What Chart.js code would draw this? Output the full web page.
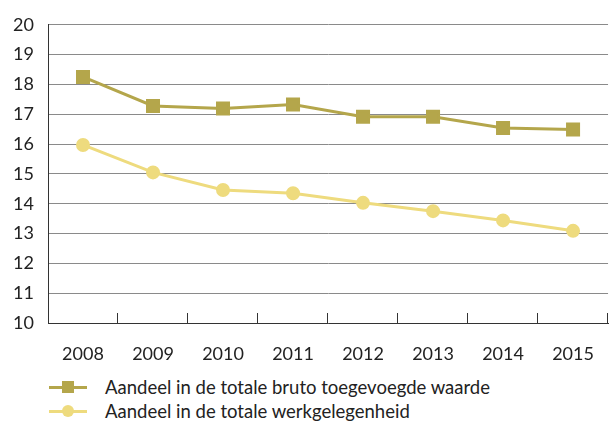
<!DOCTYPE html>
<html>
<head>
<meta charset="utf-8">
<script src="https://cdn.jsdelivr.net/npm/chart.js@4.4.0/dist/chart.umd.min.js"></script>
<style>
  html, body { margin: 0; background: #fff; overflow: hidden; font-family: Lato, sans-serif; }
  #wrap { position: relative; width: 614px; height: 370px; }
  #legend { position: absolute; left: 49px; top: 375px; font-size: 18.5px; color: #222; }
  .row { position: relative; height: 24px; line-height: 24px; padding-left: 56px; white-space: nowrap; }
  .sample { position: absolute; left: 0; top: 11px; width: 38px; height: 3px; }
  .mark { position: absolute; left: 13px; top: 6px; width: 12px; height: 12px; }
</style>
</head>
<body>
<div id="wrap"><canvas id="chart"></canvas></div>
<div id="legend"></div>
<script>
// jaren + waarden
const years = ['2008', '2009', '2010', '2011', '2012', '2013', '2014', '2015'];
const bruto = [18.25, 17.28, 17.19, 17.33, 16.92, 16.92, 16.54, 16.49];
const werk = [15.97, 15.05, 14.46, 14.35, 14.03, 13.75, 13.44, 13.09];
const seriesNames = ['Aandeel in de totale bruto toegevoegde waarde', 'Aandeel in de totale werkgelegenheid'];
const seriesColors = ['#b4a64b', '#eedb7e'];

// inward tick marks on the x axis, between the categories
const innerTicks = {
  id: 'innerTicks',
  afterDraw(chart) {
    const x = chart.scales.x;
    const ctx = chart.ctx;
    const bottom = chart.chartArea.bottom;
    const half = (x.getPixelForValue(1) - x.getPixelForValue(0)) / 2;
    ctx.save();
    ctx.strokeStyle = '#333';
    ctx.lineWidth = 1;
    for (let i = 0; i < years.length; i++) {
      const px = Math.round(x.getPixelForValue(i) + half) - 0.5;
      ctx.beginPath();
      ctx.moveTo(px, bottom);
      ctx.lineTo(px, bottom - 10);
      ctx.stroke();
    }
    ctx.restore();
  }
};

const chart = new Chart(document.getElementById('chart'), {
  type: 'line',
  data: {
    labels: years,
    datasets: [
      { label: seriesNames[0], data: bruto, borderColor: seriesColors[0], backgroundColor: seriesColors[0],
        borderWidth: 3, pointStyle: 'rect', pointRadius: 7.8, pointHoverRadius: 7.8, tension: 0 },
      { label: seriesNames[1], data: werk, borderColor: seriesColors[1], backgroundColor: seriesColors[1],
        borderWidth: 3, pointStyle: 'circle', pointRadius: 5.5, pointHoverRadius: 5.5, tension: 0 }
    ]
  },
  options: {
    responsive: true,
    maintainAspectRatio: false,
    animation: false,
    layout: { autoPadding: false, padding: { top: 23, right: 1, left: 0, bottom: 0 } },
    plugins: { legend: { display: false }, tooltip: { enabled: false } },
    scales: {
      x: {
        offset: true,
        grid: { display: false, drawTicks: false },
        border: { color: '#333', width: 1 },
        ticks: { color: '#222', font: { family: 'Lato', size: 18 }, padding: 20, maxRotation: 0 },
        afterFit(s) { s.height = 47; }
      },
      y: {
        min: 10, max: 20,
        grid: { color: '#8a8a8a', lineWidth: 1, drawTicks: false },
        border: { color: '#333', width: 1 },
        ticks: { stepSize: 1, color: '#222', font: { family: 'Lato', size: 18 }, padding: 14 },
        afterFit(s) { s.width = 48; }
      }
    }
  },
  plugins: [innerTicks]
});

// legend: line with marker, like the original
const legend = document.getElementById('legend');
chart.data.datasets.forEach((ds, i) => {
  const row = document.createElement('div');
  row.className = 'row';
  const line = document.createElement('span');
  line.className = 'sample';
  line.style.background = ds.borderColor;
  const mark = document.createElement('span');
  mark.className = 'mark';
  mark.style.background = ds.backgroundColor;
  if (ds.pointStyle === 'circle') mark.style.borderRadius = '50%';
  row.appendChild(line);
  row.appendChild(mark);
  row.appendChild(document.createTextNode(ds.label));
  legend.appendChild(row);
});
</script>
</body>
</html>
